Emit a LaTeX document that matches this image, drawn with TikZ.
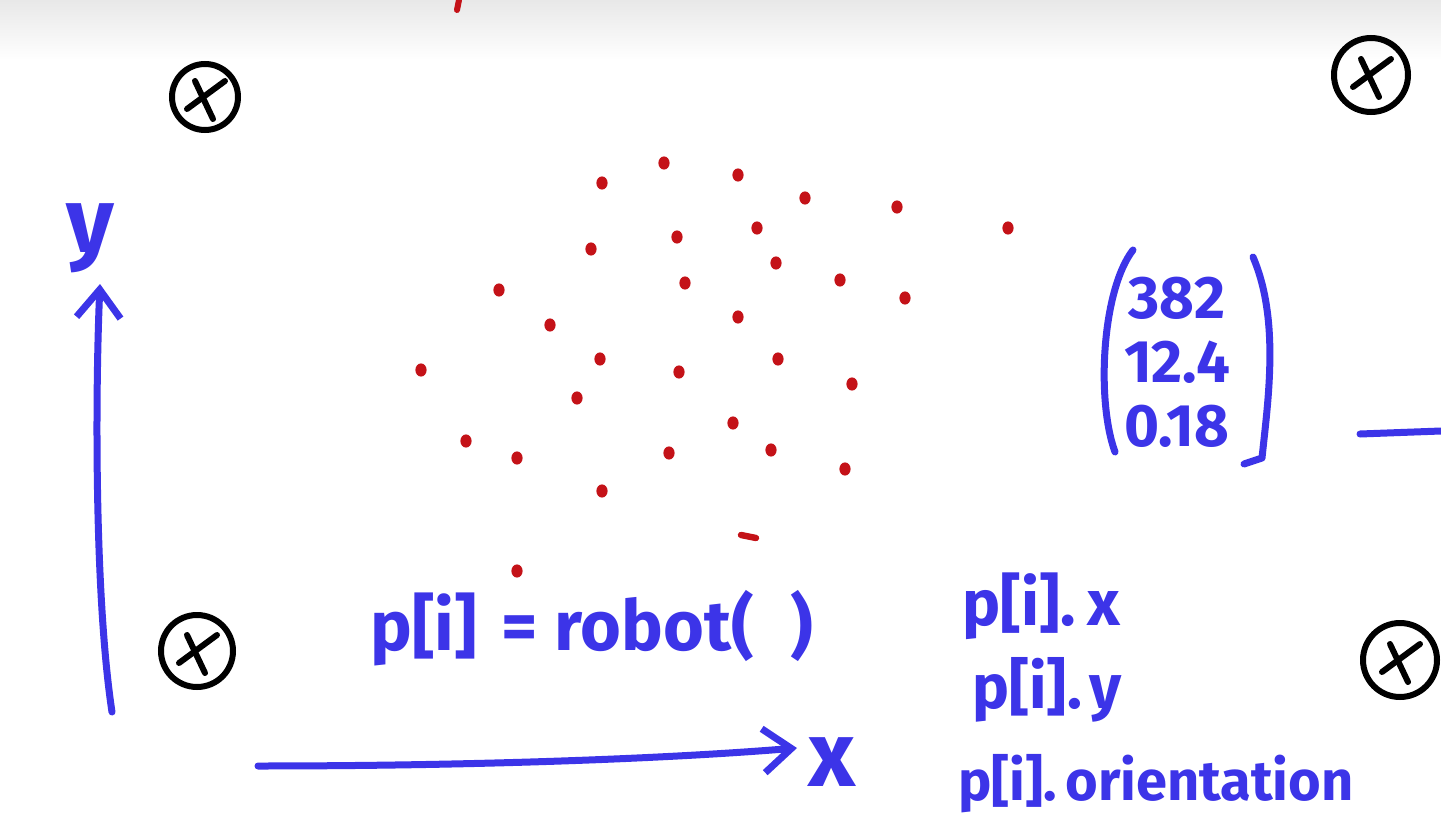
\documentclass[tikz,border=0pt]{standalone}
\usepackage{fontspec}
\setmainfont{Fira Sans}
\usetikzlibrary{arrows.meta}
\definecolor{penblue}{RGB}{60,52,232}
\definecolor{penred}{RGB}{196,18,24}

\begin{document}
\begin{tikzpicture}[
    x=0.5pt, y=-0.5pt,
    pen/.style={text=penblue,inner sep=0pt},
    stroke/.style={draw=penblue,line width=3.5pt,line cap=round,line join=round},
    axis/.style={stroke,-{Straight Barb[length=14pt,width=22pt]}},
    landmark/.style={circle,draw=black,line width=3pt,minimum size=#1,inner sep=0pt,
      path picture={
        \draw[line width=3pt,line cap=round]
          ([shift={(-9pt,-6pt)}]path picture bounding box.center) --
          ([shift={(10pt,8pt)}]path picture bounding box.center);
        \draw[line width=3pt,line cap=round]
          ([shift={(-5pt,8pt)}]path picture bounding box.center) --
          ([shift={(4pt,-11pt)}]path picture bounding box.center);
      }},
    particle/.style={fill=penred}
  ]
    \useasboundingbox (0,0) rectangle (1441,824);
    \fill[white] (0,0) rectangle (1441,824);
    \shade[top color=black!9,bottom color=white] (0,0) rectangle (1441,60);
    \draw[penred,line width=3pt,line cap=round] (459,0) -- (457,10);

    \node[landmark=33pt] (lm1) at (205,97) {};
    \node[landmark=37pt] (lm2) at (1371,75) {};
    \node[landmark=36pt] (lm3) at (197,651) {};
    \node[landmark=37pt] (lm4) at (1400,660) {};

    \foreach \px/\py in {602/183,664/163,738/175,805/198,897/207,1008/228,
        757/228,677/237,591/249,776/263,840/280,685/283,499/290,905/298,
        738/317,550/325,600/359,778/359,421/370,679/372,852/384,577/398,
        733/423,466/441,517/458,669/453,771/450,845/469,602/491,517/571}
      \fill[particle] (\px,\py) circle[x radius=2.8pt,y radius=3.3pt];
    \draw[penred,line width=3.2pt,line cap=round] (741,535) -- (756,538);

    \coordinate (yfoot) at (112,712);
    \coordinate (yhead) at (100,284);
    \draw[axis] (yfoot) .. controls (95,600) and (95,400) .. (yhead);
    \node[pen,font=\bfseries\fontsize{46}{50}\selectfont] (ylabel) at (90,238) {y};

    \coordinate (xfoot) at (258,766);
    \coordinate (xhead) at (797,748);
    \draw[axis] (xfoot) .. controls (450,766) and (650,760) .. (xhead);
    \node[pen,font=\bfseries\fontsize{46}{50}\selectfont] (xlabel) at (832,762) {x};

    \node[pen,align=center,font=\bfseries\fontsize{30}{32}\selectfont] (state) at (1177,362)
      {382\\12.4\\0.18};
    \draw[stroke] (1133,250) .. controls (1102,290) and (1096,400) .. (1115,452);
    \draw[stroke] (1253,257) .. controls (1280,320) and (1268,400) .. (1262,458) -- (1244,464);

    \coordinate (stubl) at (1360,434);
    \coordinate (stubr) at (1441,431);
    \draw[stroke] (stubl) -- (stubr);

    \node[pen,anchor=base west,font=\bfseries\fontsize{35}{40}\selectfont] (call) at (370,650)
      {p[i]\hspace{4pt} = robot(\hspace{18pt})};
    \node[pen,anchor=base west,font=\bfseries\fontsize{32}{36}\selectfont] (px) at (962,625) {p[i].\hspace{6pt}x};
    \node[pen,anchor=base west,font=\bfseries\fontsize{31}{36}\selectfont] (py) at (972,708) {p[i].\hspace{4pt}y};
    \node[pen,anchor=base west,font=\bfseries\fontsize{28}{34}\selectfont] (pth) at (958,800) {p[i].\hspace{4pt}orientation};
  \end{tikzpicture}
\end{document}
